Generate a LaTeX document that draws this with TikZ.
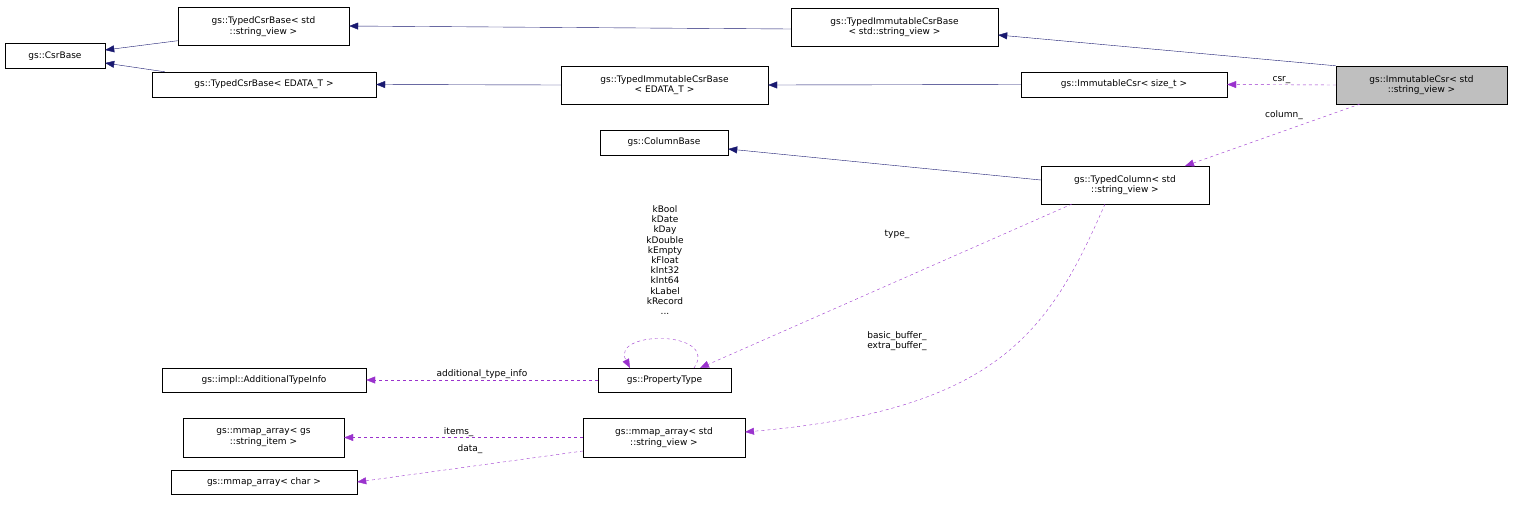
\documentclass[tikz,border=0pt]{standalone}
\usepackage{fontspec}
\setmainfont{DejaVu Sans}
\usetikzlibrary{arrows.meta}
\definecolor{nav}{HTML}{191970}
\definecolor{pur}{HTML}{9A32CD}
\begin{document}
\begin{tikzpicture}[x=1pt,y=-1pt,
  box/.style={draw,fill=white,inner sep=0pt,align=center,font=\fontsize{9}{10.5}\selectfont},
  inh/.style={draw=nav,-{Triangle[fill=nav,length=9pt,width=7pt]}},
  use/.style={draw=pur,dashed,-{Triangle[fill=pur,length=9pt,width=7pt]}},
  lab/.style={font=\fontsize{9}{10.5}\selectfont,align=center,inner sep=1pt}]
\useasboundingbox (0,0) rectangle (1513,515);
\node[box,minimum width=100pt,minimum height=25pt] (cb) at (55,56) {gs::CsrBase};
\node[box,minimum width=171pt,minimum height=38pt] (tcs) at (263.5,26.5) {gs::TypedCsrBase< std\\::string\_view >};
\node[box,minimum width=224pt,minimum height=25pt] (tce) at (264,84.5) {gs::TypedCsrBase< EDATA\_T >};
\node[box,minimum width=207pt,minimum height=38pt] (tics) at (894.5,27) {gs::TypedImmutableCsrBase\\< std::string\_view >};
\node[box,minimum width=207pt,minimum height=38pt] (tice) at (664.5,85) {gs::TypedImmutableCsrBase\\< EDATA\_T >};
\node[box,minimum width=206pt,minimum height=25pt] (ics) at (1124,84.5) {gs::ImmutableCsr< size\_t >};
\node[box,fill=black!25,minimum width=171pt,minimum height=38pt] (icv) at (1421.5,85) {gs::ImmutableCsr< std\\::string\_view >};
\node[box,minimum width=128pt,minimum height=25pt] (colb) at (664,142.5) {gs::ColumnBase};
\node[box,minimum width=168pt,minimum height=38pt] (tcol) at (1125,185) {gs::TypedColumn< std\\::string\_view >};
\node[box,minimum width=204pt,minimum height=24pt] (ati) at (264,380) {gs::impl::AdditionalTypeInfo};
\node[box,minimum width=133pt,minimum height=24pt] (pt) at (664.5,380) {gs::PropertyType};
\node[box,minimum width=161pt,minimum height=39pt] (msi) at (263.5,437.5) {gs::mmap\_array< gs\\::string\_item >};
\node[box,minimum width=162pt,minimum height=39pt] (msv) at (664,437.5) {gs::mmap\_array< std\\::string\_view >};
\node[box,minimum width=186pt,minimum height=24pt] (mc) at (264,482) {gs::mmap\_array< char >};

\draw[inh] (tcs.south west) ++(0,-5) -- (cb.east |- 0,50);
\draw[inh] (tce.north west) ++(13,0) -- (cb.east |- 0,63);
\draw[inh] (tics.west |- 0,29) -- (tcs.east |- 0,26);
\draw[inh] (icv.north west) -- (tics.east |- 0,35);
\draw[inh] (tice.west) -- (tce.east);
\draw[inh] (ics.west) -- (tice.east);
\draw[inh] (tcol.west |- 0,180) -- (colb.east |- 0,149);

\draw[use] (icv.west) -- node[lab,above]{csr\_} (ics.east);
\draw[use] (1360,104) -- (1185,166);
\node[lab] (lcol) at (1284,115) {column\_};
\draw[use] (1072,204) -- (700,368);
\node[lab] (ltype) at (897,234) {type\_};
\draw[use] (694,368) .. controls (720,330) and (610,330) .. (630,368);
\node[lab,font=\fontsize{9}{10.2}\selectfont] (lk) at (665,260) {kBool\\kDate\\kDay\\kDouble\\kEmpty\\kFloat\\kInt32\\kInt64\\kLabel\\kRecord\\...};
\draw[use] (pt.west) -- node[lab,above]{additional\_type\_info} (ati.east);
\draw[use] (1105,204) .. controls (1050,330) and (1000,410) .. (745,432);
\node[lab] (lbuf) at (897,341) {basic\_buffer\_\\extra\_buffer\_};
\draw[use] (msv.west) -- node[lab,above,pos=0.52]{items\_} (msi.east);
\draw[use] (583,451) -- (mc.east);
\node[lab] (ldata) at (470,449) {data\_};
\end{tikzpicture}
\end{document}
